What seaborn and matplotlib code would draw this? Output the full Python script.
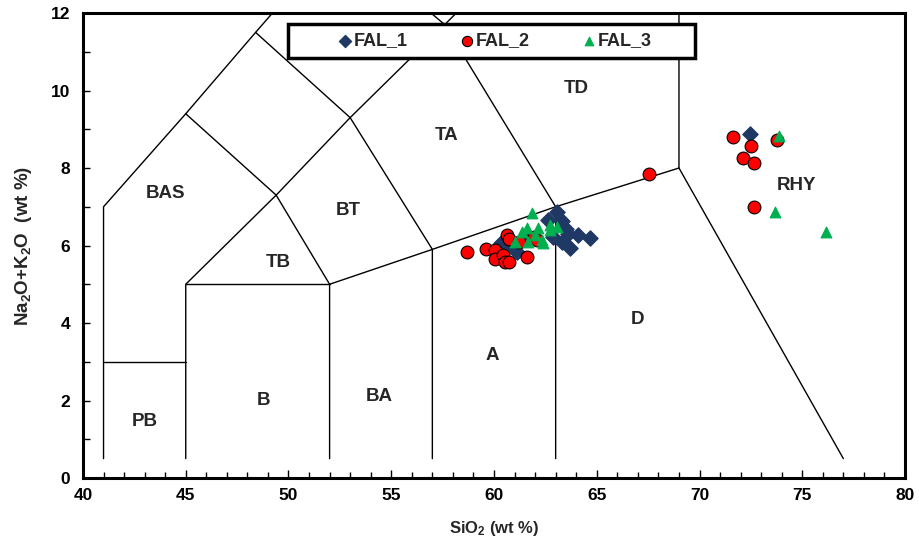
"""
Diagramme TAS (Na2O+K2O vs SiO2) pour les échantillons FAL_1, FAL_2, FAL_3.
"""

import matplotlib
matplotlib.use('Agg')
import matplotlib.pyplot as plt
from matplotlib.patches import Rectangle
from matplotlib.ticker import MultipleLocator
import pandas as pd
import seaborn as sns

# --- Données ---
fal1_sio2 = [63.05, 62.64, 63.29, 63.62, 64.10, 64.67, 63.70, 63.29, 62.89,
             61.10, 60.86, 61.51, 60.36, 63.50, 72.46]
fal1_alk = [6.87, 6.66, 6.62, 6.31, 6.27, 6.19, 5.93, 6.10, 6.23,
            5.84, 5.97, 6.19, 6.06, 6.42, 8.87]

fal2_sio2 = [58.69, 59.63, 60.05, 60.05, 60.45, 60.54, 60.75, 60.63, 60.72,
             61.20, 61.59, 61.95, 62.10, 67.54, 71.64, 72.50, 72.10, 72.67,
             73.75, 72.65]
fal2_alk = [5.84, 5.90, 5.88, 5.65, 5.75, 5.58, 5.58, 6.27, 6.17,
            6.10, 5.71, 6.22, 6.15, 7.85, 8.81, 8.58, 8.25, 8.14,
            8.72, 7.00]

fal3_sio2 = [61.83, 61.35, 61.59, 62.16, 62.72, 63.05, 61.02, 61.67, 62.32,
             62.40, 62.00, 62.72, 73.87, 73.67, 76.15]
fal3_alk = [6.83, 6.36, 6.44, 6.44, 6.53, 6.49, 6.10, 6.10, 6.14,
            6.06, 6.27, 6.40, 8.83, 6.87, 6.35]

# Limites des champs (Le Bas et al., 1986), tronquées comme sur la figure
tas_lines = [
    [(41, 0.5), (41, 7), (45, 9.4), (48.4, 11.5), (52.5, 14)],
    [(41, 3), (45, 3)],
    [(45, 0.5), (45, 5), (49.4, 7.3), (53, 9.3), (57.6, 11.7), (61, 13.5)],
    [(45, 5), (52, 5)],
    [(52, 0.5), (52, 5), (57, 5.9), (63, 7), (69, 8), (69, 12)],
    [(57, 0.5), (57, 5.9), (53, 9.3), (48.4, 11.5)],
    [(45, 9.4), (49.4, 7.3), (52, 5)],
    [(63, 0.5), (63, 7), (57.6, 11.7), (52.5, 14)],
    [(69, 8), (77, 0.5)],
]

field_names = ['PB', 'B', 'BA', 'A', 'D', 'TB', 'BT', 'TA', 'TD', 'BAS', 'RHY']
field_x = [43.0, 48.8, 54.4, 59.9, 67.0, 49.5, 52.9, 57.7, 64.0, 44.0, 74.7]
field_y = [1.45, 2.0, 2.1, 3.15, 4.1, 5.55, 6.9, 8.85, 10.05, 7.35, 7.55]

df = pd.concat([
    pd.DataFrame({'SiO2': fal1_sio2, 'alk': fal1_alk, 'groupe': 'FAL_1'}),
    pd.DataFrame({'SiO2': fal2_sio2, 'alk': fal2_alk, 'groupe': 'FAL_2'}),
    pd.DataFrame({'SiO2': fal3_sio2, 'alk': fal3_alk, 'groupe': 'FAL_3'}),
], ignore_index=True)

styles = {
    'FAL_1': dict(marker='D', color='#1F3864', edgecolor='#1F3864', s=62),
    'FAL_2': dict(marker='o', color='#FF0000', edgecolor='black', s=85),
    'FAL_3': dict(marker='^', color='#00B050', edgecolor='#00B050', s=60),
}

sns.set_theme(style='ticks')
plt.rcParams.update({
    'font.family': ['Liberation Sans', 'DejaVu Sans'],
    'font.weight': 'bold',
    'mathtext.fontset': 'custom',
    'mathtext.rm': 'Liberation Sans:bold',
    'mathtext.bf': 'Liberation Sans:bold',
    'mathtext.default': 'bf',
})

fig = plt.figure(figsize=(9.19, 5.49), dpi=100)
ax = fig.add_axes([0.0903, 0.1293, 0.8945, 0.847])

for seg in tas_lines:
    xs, ys = zip(*seg)
    ax.plot(xs, ys, color='black', linewidth=1.0, zorder=1)

for i, (name, st) in enumerate(styles.items()):
    sub = df[df['groupe'] == name]
    sns.scatterplot(data=sub, x='SiO2', y='alk', marker=st['marker'],
                    color=st['color'], edgecolor=st['edgecolor'], linewidth=0.8,
                    s=st['s'], label=name, ax=ax, zorder=3 + i)

for name, x, y in zip(field_names, field_x, field_y):
    ax.text(x, y, name, ha='center', va='center', fontsize=13.5, fontweight='bold')

ax.set_xlim(40, 80)
ax.set_ylim(0, 12)
ax.xaxis.set_major_locator(MultipleLocator(5))
ax.xaxis.set_minor_locator(MultipleLocator(1))
ax.yaxis.set_major_locator(MultipleLocator(2))
ax.yaxis.set_minor_locator(MultipleLocator(1))
ax.tick_params(axis='both', which='both', direction='in', width=1.0,
               colors='black', labelsize=12.5)
ax.tick_params(axis='x', which='major', length=6, pad=7)
ax.tick_params(axis='x', which='minor', length=4)
ax.tick_params(axis='y', which='major', length=5, pad=9)
ax.tick_params(axis='y', which='minor', length=5)
for lab in ax.get_xticklabels() + ax.get_yticklabels():
    lab.set_fontweight('bold')

for sp in ax.spines.values():
    sp.set_linewidth(2.2)
    sp.set_color('black')

ax.set_xlabel('SiO$_2$ (wt %)', fontsize=12, fontweight='bold', labelpad=12)
ax.set_ylabel('Na$_2$O+K$_2$O  (wt %)', fontsize=13.5, fontweight='bold', labelpad=12)

# cadre de légende (plus large que le contenu, comme sur l'original)
ax.add_patch(Rectangle((0.2494, 0.9032), 0.4951, 0.0731, transform=ax.transAxes,
                       facecolor='white', edgecolor='black', linewidth=2.5,
                       zorder=9, clip_on=False))
leg = ax.legend(loc='center', bbox_to_anchor=(0.501, 0.94), ncol=3,
                frameon=False, prop={'size': 13, 'weight': 'bold'},
                handlelength=0.8, handletextpad=0.1, columnspacing=2.85,
                borderpad=0.2, markerscale=0.8)
leg.set_zorder(10)

fig.savefig('out.png', dpi=100)
plt.close(fig)
